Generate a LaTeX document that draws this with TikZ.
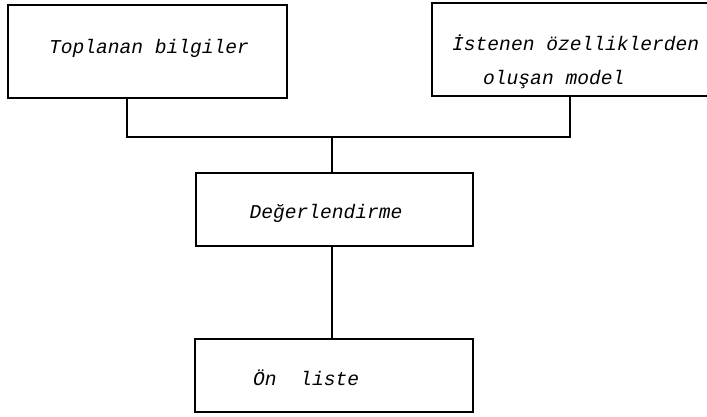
\documentclass[tikz,border=0pt]{standalone}
\usepackage{fontspec}
\setmainfont{Liberation Mono}
\begin{document}
\begin{tikzpicture}[x=1pt,y=-1pt,
  box/.style={draw,line width=1.8pt,rectangle,inner sep=0pt},
  lbl/.style={inner sep=0pt,font=\fontsize{19.6}{23}\selectfont\itshape},
  wire/.style={line width=1.8pt}]
\useasboundingbox (0,0) rectangle (707,416);
\node[box,minimum width=279pt,minimum height=93pt] (b1) at (147.5,51.5) {};
\node[box,minimum width=280pt,minimum height=93pt] (b2) at (572,49.5) {};
\node[box,minimum width=277pt,minimum height=73pt] (b3) at (334.5,209.5) {};
\node[box,minimum width=278pt,minimum height=73pt] (b4) at (334,375.5) {};
\node[lbl] (t1) at (149,48) {Toplanan bilgiler};
\node[lbl,anchor=west] (t2a) at (452,43) {İstenen özelliklerden};
\node[lbl,anchor=west] (t2b) at (483,80) {oluşan model};
\node[lbl] (t3) at (326,213) {Değerlendirme};
\node[lbl,anchor=west] (t4) at (253,378) {Ön\ \ liste};
\coordinate (j1) at (127,137);
\coordinate (j2) at (570,137);
\coordinate (j3) at (332,137);
\draw[wire] (b1.south -| j1) -- (j1) -- (j2) -- (b2.south -| j2);
\draw[wire] (j3) -- (b3.north -| j3);
\draw[wire] (b3.south -| j3) -- (b4.north -| j3);
\end{tikzpicture}
\end{document}
